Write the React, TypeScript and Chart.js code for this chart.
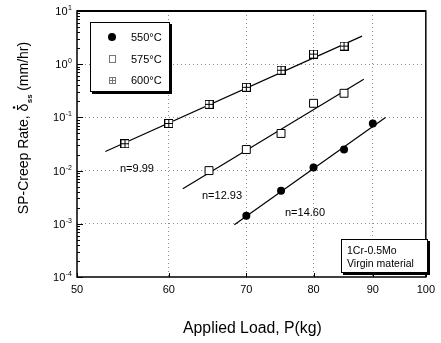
import { useEffect, useRef } from 'react';
import { Chart, registerables } from 'chart.js';
Chart.register(...registerables);

// ---- data ----
const loads550 = [70, 75, 80, 85, 90];
const rates550 = [0.00142, 0.0042, 0.0114, 0.0249, 0.077];
const loads575 = [65, 70, 75, 80, 85];
const rates575 = [0.01, 0.0249, 0.0499, 0.184, 0.284];
const loads600 = [55, 60, 65, 70, 75, 80, 85];
const rates600 = [0.032, 0.077, 0.176, 0.368, 0.77, 1.55, 2.19];

const fitLoads550 = [68.35, 92.3];
const fitRates550 = [0.000957, 0.1];
const fitLoads575 = [61.7, 88.4];
const fitRates575 = [0.00457, 0.521];
const fitLoads600 = [52.9, 88.1];
const fitRates600 = [0.0228, 3.37];

const seriesLabels = ['550°C', '575°C', '600°C'];
const slopeLabels = ['n=14.60', 'n=12.93', 'n=9.99'];
const xTickValues = [50, 60, 70, 80, 90, 100];
const yDecadeExps = [-4, -3, -2, -1, 0, 1];
const noteLines = ['1Cr-0.5Mo', 'Virgin material'];
const xTitle = 'Applied Load, P(kg)';
const yTitleParts = ['SP-Creep Rate, ', 'δ', 'ss', ' (mm/hr)'];

const FONT = '"Liberation Sans", Arial, Helvetica, sans-serif';

const pts = (xs: number[], ys: number[]) => xs.map((v, i) => ({ x: v, y: ys[i] }));

function makeGridSquare(size: number, color: string) {
  const c = document.createElement('canvas');
  c.width = size;
  c.height = size;
  const g = c.getContext('2d')!;
  g.fillStyle = '#fff';
  g.fillRect(0, 0, size, size);
  g.strokeStyle = color;
  g.lineWidth = 1;
  g.strokeRect(0.5, 0.5, size - 1, size - 1);
  const m = Math.floor(size / 2) + 0.5;
  g.beginPath();
  g.moveTo(0.5, m);
  g.lineTo(size - 0.5, m);
  g.moveTo(m, 0.5);
  g.lineTo(m, size - 0.5);
  g.stroke();
  return c;
}

export default function App() {
  const ref = useRef<HTMLCanvasElement | null>(null);

  useEffect(() => {
    const canvas = ref.current!;
    const gridSquare = makeGridSquare(9, '#000');

    const decorations = {
      id: 'decorations',
      afterDraw(chart: any) {
        const { ctx, chartArea: ca, scales } = chart;
        const xs = scales.x;
        const ys = scales.y;
        ctx.save();

        // frame
        ctx.strokeStyle = '#000';
        ctx.lineWidth = 1.5;
        ctx.strokeRect(ca.left, ca.top, ca.right - ca.left, ca.bottom - ca.top);
        ctx.lineWidth = 2;
        ctx.beginPath();
        ctx.moveTo(ca.left, ca.top);
        ctx.lineTo(ca.right, ca.top);
        ctx.stroke();

        // y ticks (major + minor), inward
        ctx.lineWidth = 1;
        for (let k = 0; k < yDecadeExps.length; k++) {
          const e = yDecadeExps[k];
          const base = Math.pow(10, e);
          const py = Math.round(ys.getPixelForValue(base)) + 0.5;
          ctx.beginPath();
          ctx.moveTo(ca.left, py);
          ctx.lineTo(ca.left + 6, py);
          ctx.stroke();
          if (k < yDecadeExps.length - 1) {
            for (let m = 2; m <= 9; m++) {
              const my = Math.round(ys.getPixelForValue(base * m)) + 0.5;
              ctx.beginPath();
              ctx.moveTo(ca.left, my);
              ctx.lineTo(ca.left + 3, my);
              ctx.stroke();
            }
          }
        }
        // x ticks inward
        for (const v of xTickValues) {
          const px = Math.round(xs.getPixelForValue(v)) + 0.5;
          ctx.beginPath();
          ctx.moveTo(px, ca.bottom);
          ctx.lineTo(px, ca.bottom - 4);
          ctx.stroke();
        }

        // y tick labels 10^e
        ctx.fillStyle = '#000';
        for (const e of yDecadeExps) {
          const py = ys.getPixelForValue(Math.pow(10, e));
          const expStr = e < 0 ? '-' + Math.abs(e) : String(e);
          ctx.font = '7px ' + FONT;
          const ew = ctx.measureText(expStr).width;
          const right = ca.left - 5;
          ctx.textAlign = 'left';
          ctx.textBaseline = 'alphabetic';
          ctx.fillText(expStr, right - ew, py - 1);
          ctx.font = '11px ' + FONT;
          ctx.textAlign = 'right';
          ctx.textBaseline = 'middle';
          ctx.fillText('10', right - ew - 0.5, py + 1);
        }

        // y title (rotated)
        ctx.save();
        ctx.translate(23, 128);
        ctx.rotate(-Math.PI / 2);
        const big = '14px ' + FONT;
        const small = 'bold 8px ' + FONT;
        ctx.font = big;
        const w0 = ctx.measureText(yTitleParts[0]).width;
        const w1 = ctx.measureText(yTitleParts[1]).width;
        const w3 = ctx.measureText(yTitleParts[3]).width;
        ctx.font = small;
        const w2 = ctx.measureText(yTitleParts[2]).width;
        const total = w0 + w1 + w2 + w3;
        let cx = -total / 2;
        ctx.textAlign = 'left';
        ctx.textBaseline = 'alphabetic';
        ctx.font = big;
        ctx.fillText(yTitleParts[0], cx, 5);
        cx += w0;
        ctx.fillText(yTitleParts[1], cx, 5);
        ctx.beginPath();
        ctx.arc(cx + w1 / 2, -9, 1.2, 0, Math.PI * 2);
        ctx.fill();
        cx += w1;
        ctx.font = small;
        ctx.fillText(yTitleParts[2], cx + 0.5, 9);
        cx += w2;
        ctx.font = big;
        ctx.fillText(yTitleParts[3], cx, 5);
        ctx.restore();

        // x title
        ctx.font = '15.8px ' + FONT;
        ctx.textAlign = 'center';
        ctx.textBaseline = 'middle';
        ctx.fillText(xTitle, (ca.left + ca.right) / 2 + 1, 329);

        // boxes with drop shadow
        const drawBox = (bx: number, by: number, bw: number, bh: number) => {
          ctx.fillStyle = '#000';
          ctx.fillRect(bx + 2, by + 2, bw, bh);
          ctx.fillStyle = '#fff';
          ctx.fillRect(bx, by, bw, bh);
          ctx.strokeStyle = '#000';
          ctx.lineWidth = 1;
          ctx.strokeRect(bx + 0.5, by + 0.5, bw - 1, bh - 1);
        };
        drawBox(90, 22, 80, 70);
        const rows = [37, 59, 80];
        ctx.fillStyle = '#000';
        ctx.beginPath();
        ctx.arc(112, rows[0], 4, 0, Math.PI * 2);
        ctx.fill();
        ctx.strokeStyle = '#777';
        ctx.lineWidth = 1;
        ctx.strokeRect(109.5, rows[1] - 3.5, 6, 7);
        ctx.drawImage(makeGridSquare(7, '#777'), 109, rows[2] - 3);
        ctx.fillStyle = '#000';
        ctx.font = '11px ' + FONT;
        ctx.textAlign = 'left';
        ctx.textBaseline = 'middle';
        seriesLabels.forEach((s, i) => ctx.fillText(s, 131, rows[i] + 1));

        // slope annotations
        ctx.fillText(slopeLabels[2], 120, 169);
        ctx.fillText(slopeLabels[1], 202, 196);
        ctx.fillText(slopeLabels[0], 285, 213);

        // note box
        drawBox(341, 239, 87, 34);
        ctx.fillStyle = '#000';
        ctx.font = '10.5px ' + FONT;
        ctx.fillText(noteLines[0], 347, 251);
        ctx.fillText(noteLines[1], 347, 264);

        ctx.restore();
      },
    };

    const gridColor = (ctx: any, n: number) =>
      ctx.index === 0 || ctx.index === n - 1 ? 'rgba(0,0,0,0)' : '#8c8c8c';

    const fitStyle = {
      type: 'line',
      borderColor: '#000',
      borderWidth: 1.2,
      pointRadius: 0,
      fill: false,
      order: 1,
    };

    const chart = new Chart(canvas, {
      type: 'scatter',
      data: {
        datasets: [
          {
            label: seriesLabels[0],
            data: pts(loads550, rates550),
            pointStyle: 'circle',
            pointRadius: 4,
            backgroundColor: '#000',
            borderColor: '#000',
            borderWidth: 0,
            order: 0,
          },
          {
            label: seriesLabels[1],
            data: pts(loads575, rates575),
            pointStyle: 'rect',
            pointRadius: 5.6,
            backgroundColor: '#fff',
            borderColor: '#000',
            borderWidth: 1,
            order: 0,
          },
          {
            label: seriesLabels[2],
            data: pts(loads600, rates600),
            pointStyle: gridSquare as any,
            pointRadius: 5,
            order: 0,
          },
          { ...fitStyle, label: 'fit550', data: pts(fitLoads550, fitRates550) } as any,
          { ...fitStyle, label: 'fit575', data: pts(fitLoads575, fitRates575) } as any,
          { ...fitStyle, label: 'fit600', data: pts(fitLoads600, fitRates600) } as any,
        ],
      },
      options: {
        responsive: false,
        animation: false,
        devicePixelRatio: 1,
        layout: { padding: { top: 11, right: 9, left: 0, bottom: 0 } },
        plugins: {
          legend: { display: false },
          tooltip: { enabled: false },
        },
        scales: {
          x: {
            type: 'logarithmic',
            min: 50,
            max: 100,
            afterBuildTicks: (s: any) => {
              s.ticks = xTickValues.map((v) => ({ value: v }));
            },
            afterFit: (s: any) => {
              s.height = 66;
            },
            ticks: {
              callback: (v: any) => String(v),
              font: { size: 11, family: FONT },
              color: '#000',
              padding: 6,
              maxRotation: 0,
              autoSkip: false,
            },
            grid: {
              drawTicks: false,
              color: (c: any) => gridColor(c, xTickValues.length),
              lineWidth: 1,
            },
            border: { display: false, dash: [1, 3] },
          },
          y: {
            type: 'logarithmic',
            min: 1e-4,
            max: 10,
            afterBuildTicks: (s: any) => {
              s.ticks = yDecadeExps.map((e) => ({ value: Math.pow(10, e) }));
            },
            afterFit: (s: any) => {
              s.width = 77;
            },
            ticks: { display: false },
            grid: {
              drawTicks: false,
              color: (c: any) => gridColor(c, yDecadeExps.length),
              lineWidth: 1,
            },
            border: { display: false, dash: [1, 3] },
          },
        },
      } as any,
      plugins: [decorations],
    });

    return () => chart.destroy();
  }, []);

  return (
    <div style={{ position: 'fixed', left: 0, top: 0, width: 441, height: 343, background: '#fff' }}>
      <canvas ref={ref} width={441} height={343} />
    </div>
  );
}
